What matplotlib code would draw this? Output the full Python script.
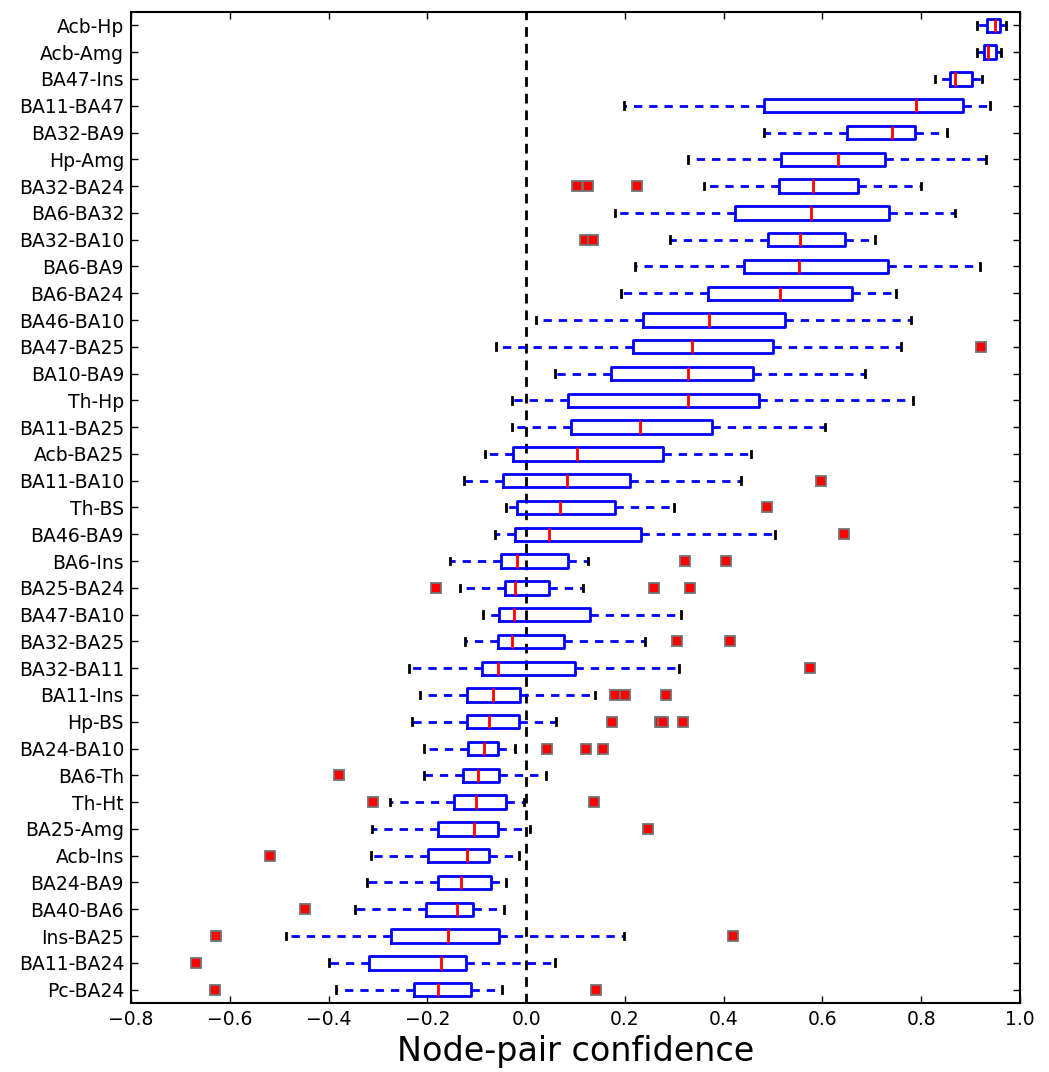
import numpy as np
import matplotlib
matplotlib.use('Agg')
import matplotlib.pyplot as plt

plt.rcParams['lines.scale_dashes'] = False

labels = ['Acb-Hp', 'Acb-Amg', 'BA47-Ins', 'BA11-BA47', 'BA32-BA9', 'Hp-Amg',
          'BA32-BA24', 'BA6-BA32', 'BA32-BA10', 'BA6-BA9', 'BA6-BA24', 'BA46-BA10',
          'BA47-BA25', 'BA10-BA9', 'Th-Hp', 'BA11-BA25', 'Acb-BA25', 'BA11-BA10',
          'Th-BS', 'BA46-BA9', 'BA6-Ins', 'BA25-BA24', 'BA47-BA10', 'BA32-BA25',
          'BA32-BA11', 'BA11-Ins', 'Hp-BS', 'BA24-BA10', 'BA6-Th', 'Th-Ht',
          'BA25-Amg', 'Acb-Ins', 'BA24-BA9', 'BA40-BA6', 'Ins-BA25', 'BA11-BA24',
          'Pc-BA24']

# whisker low, q1, median, q3, whisker high
whislo = [0.912, 0.913, 0.828, 0.198, 0.482, 0.328, 0.361, 0.180, 0.291, 0.220,
          0.192, 0.020, -0.060, 0.058, -0.028, -0.028, -0.083, -0.125, -0.040, -0.064,
          -0.155, -0.134, -0.087, -0.123, -0.238, -0.215, -0.231, -0.207, -0.207, -0.276,
          -0.312, -0.314, -0.322, -0.346, -0.486, -0.400, -0.384]
q1 = [0.933, 0.927, 0.858, 0.481, 0.649, 0.516, 0.512, 0.422, 0.489, 0.442,
      0.369, 0.237, 0.217, 0.172, 0.085, 0.090, -0.026, -0.046, -0.018, -0.022,
      -0.050, -0.043, -0.054, -0.057, -0.089, -0.120, -0.120, -0.118, -0.128, -0.145,
      -0.179, -0.199, -0.179, -0.202, -0.274, -0.319, -0.227]
med = [0.949, 0.935, 0.869, 0.789, 0.740, 0.632, 0.580, 0.577, 0.555, 0.552,
       0.514, 0.371, 0.336, 0.327, 0.327, 0.230, 0.104, 0.083, 0.069, 0.046,
       -0.019, -0.023, -0.025, -0.029, -0.057, -0.068, -0.075, -0.085, -0.097, -0.102,
       -0.105, -0.119, -0.131, -0.139, -0.159, -0.173, -0.178]
q3 = [0.959, 0.952, 0.903, 0.885, 0.787, 0.727, 0.673, 0.735, 0.646, 0.732,
      0.659, 0.525, 0.499, 0.459, 0.471, 0.376, 0.278, 0.210, 0.180, 0.233,
      0.084, 0.047, 0.130, 0.076, 0.098, -0.013, -0.015, -0.056, -0.054, -0.040,
      -0.057, -0.076, -0.071, -0.107, -0.055, -0.121, -0.112]
whishi = [0.972, 0.962, 0.924, 0.939, 0.853, 0.932, 0.799, 0.869, 0.706, 0.919,
          0.748, 0.780, 0.760, 0.686, 0.784, 0.605, 0.456, 0.435, 0.300, 0.503,
          0.125, 0.116, 0.313, 0.241, 0.309, 0.140, 0.061, -0.023, 0.041, -0.004,
          0.008, -0.014, -0.041, -0.044, 0.199, 0.058, -0.048]
outliers = [[], [], [], [], [], [], [0.104, 0.126, 0.224], [], [0.119, 0.136], [],
            [], [], [0.922], [], [], [], [], [0.598], [0.487], [0.643],
            [0.322, 0.404], [-0.182, 0.258, 0.332], [], [0.306, 0.412], [0.574],
            [0.180, 0.201, 0.283], [0.173, 0.272, 0.278, 0.318], [0.043, 0.121, 0.156],
            [-0.378], [-0.311, 0.137], [0.247], [-0.518], [], [-0.448],
            [-0.627, 0.419], [-0.669], [-0.629, 0.142]]

n = len(labels)
stats = []
for i in range(n):
    stats.append({'label': labels[i], 'whislo': whislo[i], 'q1': q1[i], 'med': med[i],
                  'q3': q3[i], 'whishi': whishi[i], 'fliers': outliers[i]})

positions = np.arange(n, 0, -1)

fig = plt.figure(figsize=(10.49, 10.72), dpi=100)
ax = fig.add_axes([131 / 1049, 1 - 1003 / 1072, 889 / 1049, 991 / 1072])

props = dict(
    positions=positions, widths=0.5,
    boxprops=dict(color='blue', linewidth=2),
    medianprops=dict(color='red', linewidth=2),
    whiskerprops=dict(color='blue', linewidth=2, linestyle=(0, (6, 5))),
    capprops=dict(color='black', linewidth=2),
    flierprops=dict(marker='s', markerfacecolor='red', markeredgecolor='0.45',
                    markeredgewidth=1.3, markersize=7.5, linestyle='none'),
)
try:
    ax.bxp(stats, orientation='horizontal', **props)
except TypeError:
    ax.bxp(stats, vert=False, **props)

ax.axvline(0, color='black', linewidth=2, linestyle=(0, (7, 5)), zorder=0.5)

ax.set_xlim(-0.8, 1.0)
ax.set_ylim(0.5, n + 0.5)
ax.set_yticks(positions)
ax.set_yticklabels(labels, fontsize=13.5)
ax.set_xticks(np.arange(-0.8, 1.01, 0.2))
ax.set_xticklabels(['\u22120.8', '\u22120.6', '\u22120.4', '\u22120.2', '0.0',
                    '0.2', '0.4', '0.6', '0.8', '1.0'], fontsize=13.5)
ax.tick_params(direction='in', top=True, right=True, length=5, width=1, pad=5)
for sp in ax.spines.values():
    sp.set_linewidth(1.5)

ax.set_xlabel('Node-pair confidence', fontsize=24, labelpad=4)

fig.savefig('out.png', dpi=100)
